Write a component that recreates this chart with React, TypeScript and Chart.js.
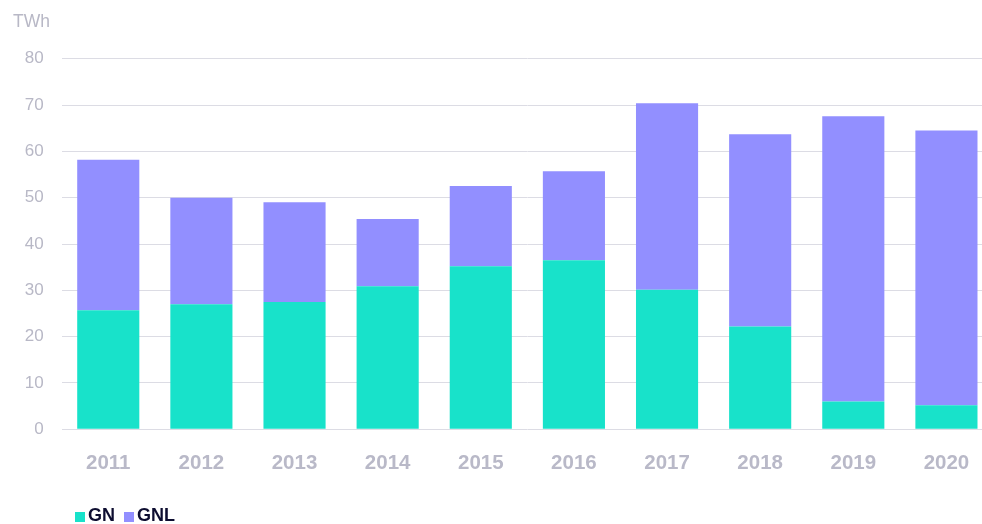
import React, { useEffect, useRef } from "react";
import { Chart, registerables } from "chart.js";

Chart.register(...registerables);

const years = ["2011", "2012", "2013", "2014", "2015", "2016", "2017", "2018", "2019", "2020"];
const gnValues = [25.7, 27.0, 27.5, 30.9, 35.2, 36.5, 30.1, 22.2, 6.0, 5.2];
const gnlValues = [32.5, 23.0, 21.5, 14.5, 17.3, 19.2, 40.3, 41.5, 61.6, 59.3];
const yTicks = [0, 10, 20, 30, 40, 50, 60, 70, 80];
const unitLabel = "TWh";
const seriesNames = ["GN", "GNL"];
const seriesColors = ["#18E2CA", "#928FFF"];

const FONT = "'Liberation Sans', Arial, Helvetica, sans-serif";

export default function App() {
  const ref = useRef<HTMLCanvasElement | null>(null);

  useEffect(() => {
    const canvas = ref.current;
    if (!canvas) return;

    const extras = {
      id: "extras",
      afterDraw(chart: any) {
        const ctx = chart.ctx;
        ctx.save();
        // unit label
        ctx.font = `17.5px ${FONT}`;
        ctx.fillStyle = "#B8B8C6";
        ctx.textAlign = "left";
        ctx.textBaseline = "middle";
        ctx.fillText(unitLabel, 13, 22.5);
        // legend
        let x = 75;
        const baseY = 521;
        chart.data.datasets.forEach((ds: any) => {
          ctx.fillStyle = ds.backgroundColor;
          ctx.fillRect(x, 512, 10, 10);
          ctx.font = `bold 18px ${FONT}`;
          ctx.fillStyle = "#0D0D30";
          ctx.textBaseline = "alphabetic";
          ctx.fillText(ds.label, x + 13, baseY);
          const w = ctx.measureText(ds.label).width;
          x += 13 + w + 9;
        });
        ctx.restore();
      },
    };

    const chart = new Chart(canvas, {
      type: "bar",
      data: {
        labels: years,
        datasets: [
          {
            label: seriesNames[0],
            data: gnValues,
            backgroundColor: seriesColors[0],
            borderWidth: 0,
            barPercentage: 0.667,
            categoryPercentage: 1,
          },
          {
            label: seriesNames[1],
            data: gnlValues,
            backgroundColor: seriesColors[1],
            borderWidth: 0,
            barPercentage: 0.667,
            categoryPercentage: 1,
          },
        ],
      },
      options: {
        responsive: false,
        animation: false,
        layout: { padding: { top: 58.7, left: 0, right: 0, bottom: 0 } },
        plugins: {
          legend: { display: false },
          tooltip: { enabled: false },
        },
        scales: {
          x: {
            stacked: true,
            grid: { display: false, drawTicks: false },
            border: { display: false },
            ticks: {
              color: "#B9B9C8",
              font: { family: FONT, size: 20.5, weight: "bold" },
              padding: 22,
              maxRotation: 0,
            },
            afterFit: (s: any) => {
              s.height = 94.7;
            },
          },
          y: {
            stacked: true,
            min: 0,
            max: 80,
            afterBuildTicks: (s: any) => {
              s.ticks = yTicks.map((v) => ({ value: v }));
            },
            grid: { color: "#DCDCE4", lineWidth: 1, drawTicks: false },
            border: { display: false },
            ticks: {
              color: "#B8B8C6",
              font: { family: FONT, size: 17 },
              padding: 18,
            },
            afterFit: (s: any) => {
              s.width = 61.7;
            },
          },
        },
      },
      plugins: [extras],
    });

    return () => chart.destroy();
  }, []);

  return (
    <div
      style={{
        position: "fixed",
        left: 0,
        top: 0,
        width: 982,
        height: 524,
        overflow: "hidden",
        background: "#fff",
      }}
    >
      <canvas
        ref={ref}
        width={993}
        height={524}
        style={{ width: 993, height: 524, display: "block" }}
      />
    </div>
  );
}
